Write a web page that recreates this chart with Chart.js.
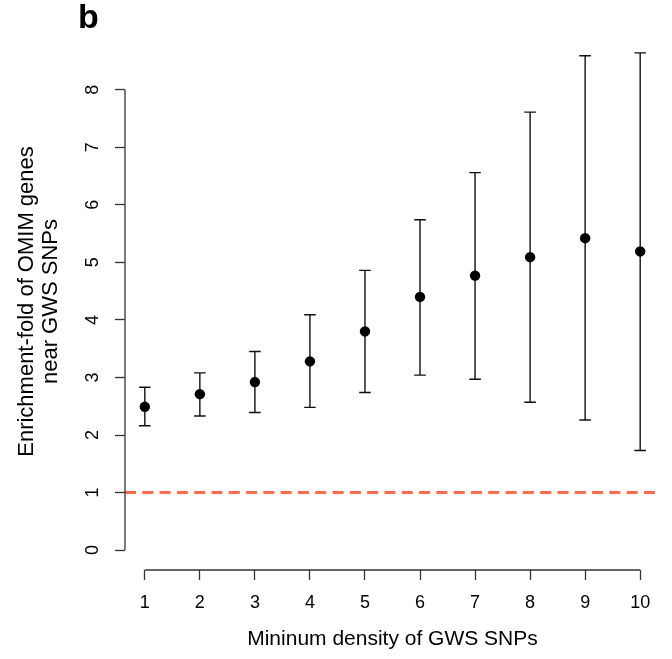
<!DOCTYPE html>
<html>
<head>
<meta charset="utf-8">
<script src="https://cdn.jsdelivr.net/npm/chart.js@4/dist/chart.umd.min.js"></script>
<style>
  html, body { margin: 0; padding: 0; background: #ffffff; }
  #wrap { position: relative; width: 672px; height: 659px; }
</style>
</head>
<body>
<div id="wrap"><canvas id="c"></canvas></div>
<script>
// ---- data ----
const categories = [1, 2, 3, 4, 5, 6, 7, 8, 9, 10];
const enrichment = [2.49, 2.71, 2.92, 3.28, 3.80, 4.40, 4.77, 5.09, 5.42, 5.19];
const lowerCI    = [2.16, 2.33, 2.39, 2.48, 2.74, 3.04, 2.97, 2.57, 2.26, 1.73];
const upperCI    = [2.83, 3.08, 3.45, 4.09, 4.86, 5.74, 6.56, 7.61, 8.59, 8.64];
const xTicks = [1, 2, 3, 4, 5, 6, 7, 8, 9, 10];
const yTicks = [0, 1, 2, 3, 4, 5, 6, 7, 8];
const referenceLevel = 1;
const panelLabel = 'b';
const xTitle = 'Mininum density of GWS SNPs';
const yTitle = ['Enrichment-fold of OMIM genes', 'near GWS SNPs'];

// ---- R-like axis ranges (4% extension) ----
const xLo = Math.min(...categories), xHi = Math.max(...categories);
const xPad = (xHi - xLo) * 0.04;
const yLo = 0, yHi = Math.max(...upperCI);
const yPad = (yHi - yLo) * 0.04;

const FONT = "'Liberation Sans', Arial, Helvetica, sans-serif";
Chart.defaults.font.family = FONT;
Chart.defaults.color = '#000';

const rAxesPlugin = {
  id: 'rAxes',
  beforeDatasetsDraw(chart) {
    const {ctx, scales: {x, y}} = chart;
    ctx.save();
    ctx.strokeStyle = '#111';
    ctx.lineWidth = 1.4;
    const cap = 5.8;
    categories.forEach((c, i) => {
      const px = x.getPixelForValue(c);
      const y1 = y.getPixelForValue(lowerCI[i]);
      const y2 = y.getPixelForValue(upperCI[i]);
      ctx.beginPath();
      ctx.moveTo(px, y1); ctx.lineTo(px, y2);
      ctx.moveTo(px - cap, y1); ctx.lineTo(px + cap, y1);
      ctx.moveTo(px - cap, y2); ctx.lineTo(px + cap, y2);
      ctx.stroke();
    });
    ctx.restore();
  },
  afterDraw(chart) {
    const {ctx, scales: {x, y}, chartArea} = chart;
    ctx.save();
    ctx.strokeStyle = '#333';
    ctx.lineWidth = 1.3;
    ctx.beginPath();
    ctx.moveTo(x.getPixelForValue(xTicks[0]), chartArea.bottom);
    ctx.lineTo(x.getPixelForValue(xTicks[xTicks.length - 1]), chartArea.bottom);
    ctx.stroke();
    ctx.beginPath();
    ctx.moveTo(chartArea.left, y.getPixelForValue(yTicks[0]));
    ctx.lineTo(chartArea.left, y.getPixelForValue(yTicks[yTicks.length - 1]));
    ctx.stroke();
    ctx.fillStyle = '#000';
    ctx.font = 'bold 34px ' + FONT;
    ctx.textBaseline = 'alphabetic';
    ctx.textAlign = 'left';
    ctx.fillText(panelLabel, 78, 28);
    ctx.restore();
  }
};

new Chart(document.getElementById('c'), {
  type: 'scatter',
  data: {
    datasets: [
      {
        type: 'line',
        label: 'reference',
        data: [{x: xLo - xPad, y: referenceLevel}, {x: xHi + xPad, y: referenceLevel}],
        borderColor: '#ff6a4d',
        borderWidth: 3,
        borderDash: [11, 6.3],
        pointRadius: 0,
        fill: false,
        order: 2
      },
      {
        label: 'enrichment',
        data: categories.map((c, i) => ({x: c, y: enrichment[i]})),
        backgroundColor: '#000',
        borderColor: '#000',
        pointRadius: 5.2,
        pointHoverRadius: 5.2,
        borderWidth: 0,
        order: 1
      }
    ]
  },
  options: {
    responsive: true,
    maintainAspectRatio: false,
    devicePixelRatio: 1,
    animation: false,
    events: [],
    layout: { padding: { left: 0, top: 33, right: 12, bottom: 0 } },
    plugins: { legend: { display: false }, tooltip: { enabled: false } },
    scales: {
      x: {
        type: 'linear',
        position: 'bottom',
        min: xLo - xPad,
        max: xHi + xPad,
        afterBuildTicks: s => { s.ticks = xTicks.map(v => ({value: v})); },
        afterFit: s => { s.height = 89; },
        border: { display: false },
        grid: { display: true, drawOnChartArea: false, drawTicks: true, tickLength: 10, tickWidth: 1.3, tickColor: '#333' },
        ticks: { font: { size: 18 }, color: '#000', padding: 12, maxRotation: 0, minRotation: 0, autoSkip: false },
        title: { display: true, text: xTitle, font: { size: 21 }, color: '#000', padding: { top: 0, bottom: 6.9 } }
      },
      y: {
        type: 'linear',
        position: 'left',
        min: yLo - yPad,
        max: yHi + yPad,
        afterBuildTicks: s => { s.ticks = yTicks.map(v => ({value: v})); },
        afterFit: s => { s.width = 125; },
        border: { display: false },
        grid: { display: true, drawOnChartArea: false, drawTicks: true, tickLength: 10, tickWidth: 1.3, tickColor: '#333' },
        ticks: { font: { size: 18 }, color: '#000', padding: 17, minRotation: 90, maxRotation: 90, crossAlign: 'center', autoSkip: false },
        title: { display: true, text: yTitle, font: { size: 22, lineHeight: 24 / 22 }, color: '#000', padding: { top: 15, bottom: 0 } }
      }
    }
  },
  plugins: [rAxesPlugin]
});
</script>
</body>
</html>
